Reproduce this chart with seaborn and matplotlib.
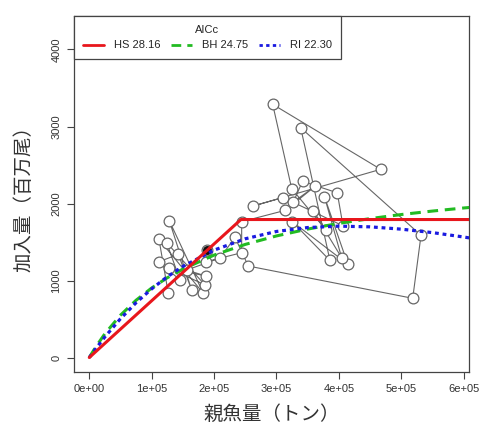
import pandas as pd
import seaborn as sns
import matplotlib.pyplot as plt
from matplotlib.lines import Line2D

# stock-recruitment pairs, in the order they are joined by the grey path
ssb = [126600, 111700, 182700, 128200, 164100, 142600, 111700, 145400, 124000, 185400,
       127700, 187000, 156100, 209500, 233500, 254800, 518300, 531600, 338800, 385700,
       325300, 414300, 376900, 404500, 359000, 379800, 324400, 293900, 467000, 262800,
       310400, 406600, 397400, 341700, 326900, 361700, 314400, 244200, 244200, 187000,
       188100]
rec = [834, 1535, 834, 1777, 877, 1340, 1244, 1006, 1491, 942,
       1162, 1058, 1136, 1292, 1561, 1188, 769, 1587, 2984, 1260,
       1764, 1212, 2088, 1295, 1899, 1652, 2192, 3288, 2444, 1968,
       2078, 1710, 2139, 2288, 2019, 2223, 1912, 1764, 1361, 1244,
       1396]
last_ssb = [188100]
last_rec = [1396]

# fitted curves
hs_ssb = [0, 243000, 610000]
hs_rec = [0, 1792, 1792]
curve_ssb = [0, 10000, 25000, 50000, 75000, 100000, 125000, 150000, 200000, 250000,
             300000, 350000, 400000, 450000, 500000, 550000, 600000, 610000]
bh_rec = [0, 133, 309, 550, 744, 903, 1036, 1149, 1330, 1469,
          1579, 1668, 1742, 1804, 1857, 1902, 1942, 1949]
ri_rec = [0, 111, 268, 504, 712, 892, 1049, 1183, 1395, 1542,
          1637, 1688, 1706, 1697, 1667, 1622, 1565, 1552]

legend_labels = ['HS 28.16', 'BH 24.75', 'RI 22.30']
x_ticks = [0, 100000, 200000, 300000, 400000, 500000, 600000]
x_tick_labels = ['0e+00', '1e+05', '2e+05', '3e+05', '4e+05', '5e+05', '6e+05']
y_ticks = [0, 1000, 2000, 3000, 4000]
y_tick_labels = ['0', '1000', '2000', '3000', '4000']

sns.set_theme(style='ticks')
plt.rcParams['font.family'] = ['Liberation Sans', 'DejaVu Sans']

fig = plt.figure(figsize=(4.8, 4.24), dpi=100)
ax = fig.add_axes([74 / 480, 52 / 424, 395 / 480, 356 / 424])

path = pd.DataFrame({'ssb': ssb, 'rec': rec})
sns.lineplot(data=path, x='ssb', y='rec', sort=False, estimator=None,
             color='#666666', lw=0.8, ax=ax, zorder=2)
sns.scatterplot(data=path, x='ssb', y='rec', s=60, facecolor='white',
                edgecolor='#666666', linewidth=0.9, ax=ax, zorder=3)
sns.scatterplot(x=last_ssb, y=last_rec, s=42, color='#111111', linewidth=0, ax=ax, zorder=3)

red, green, blue = '#e8161c', '#22bb22', '#1a1ae0'
sns.lineplot(x=hs_ssb, y=hs_rec, color=red, lw=2.2, ax=ax, zorder=5)
sns.lineplot(x=curve_ssb, y=bh_rec, color=green, lw=2.2, linestyle=(0, (3.5, 2.2)), ax=ax, zorder=4)
sns.lineplot(x=curve_ssb, y=ri_rec, color=blue, lw=2.3, linestyle=(0, (1.2, 1.2)), ax=ax, zorder=4)

ax.set_xlim(-24500, 608500)
ax.set_ylim(-188, 4435)
ax.set_xticks(x_ticks)
ax.set_xticklabels(x_tick_labels)
ax.set_yticks(y_ticks)
ax.set_yticklabels(y_tick_labels, rotation=90, va='center')
ax.tick_params(direction='out', length=5, width=0.8, color='#444444',
               labelsize=8, labelcolor='#333333', pad=4)

for sp in ax.spines.values():
    sp.set_visible(True)
    sp.set_color('#444444')
    sp.set_linewidth(0.9)

cjk = ['Noto Sans CJK JP', 'DejaVu Sans']
ax.set_xlabel('親魚量（トン）', fontsize=14, family=cjk, color='#333333', labelpad=7)
ax.set_ylabel('加入量（百万尾）', fontsize=14, family=cjk, color='#333333', labelpad=12)

handles = [Line2D([], [], color=red, lw=2),
           Line2D([], [], color=green, lw=2, linestyle=(0, (3.5, 2.2))),
           Line2D([], [], color=blue, lw=2, linestyle=(0, (1.2, 1.2)))]
leg = ax.legend(handles, legend_labels, title='AICc', ncol=3, loc='upper left',
                bbox_to_anchor=(0, 1), borderaxespad=0, fontsize=8, title_fontsize=8,
                frameon=True, fancybox=False, framealpha=1, edgecolor='#444444',
                handlelength=1.9, handletextpad=0.9, columnspacing=0.95, borderpad=0.8)
leg.get_frame().set_linewidth(0.9)

fig.savefig('out.png', dpi=100)
